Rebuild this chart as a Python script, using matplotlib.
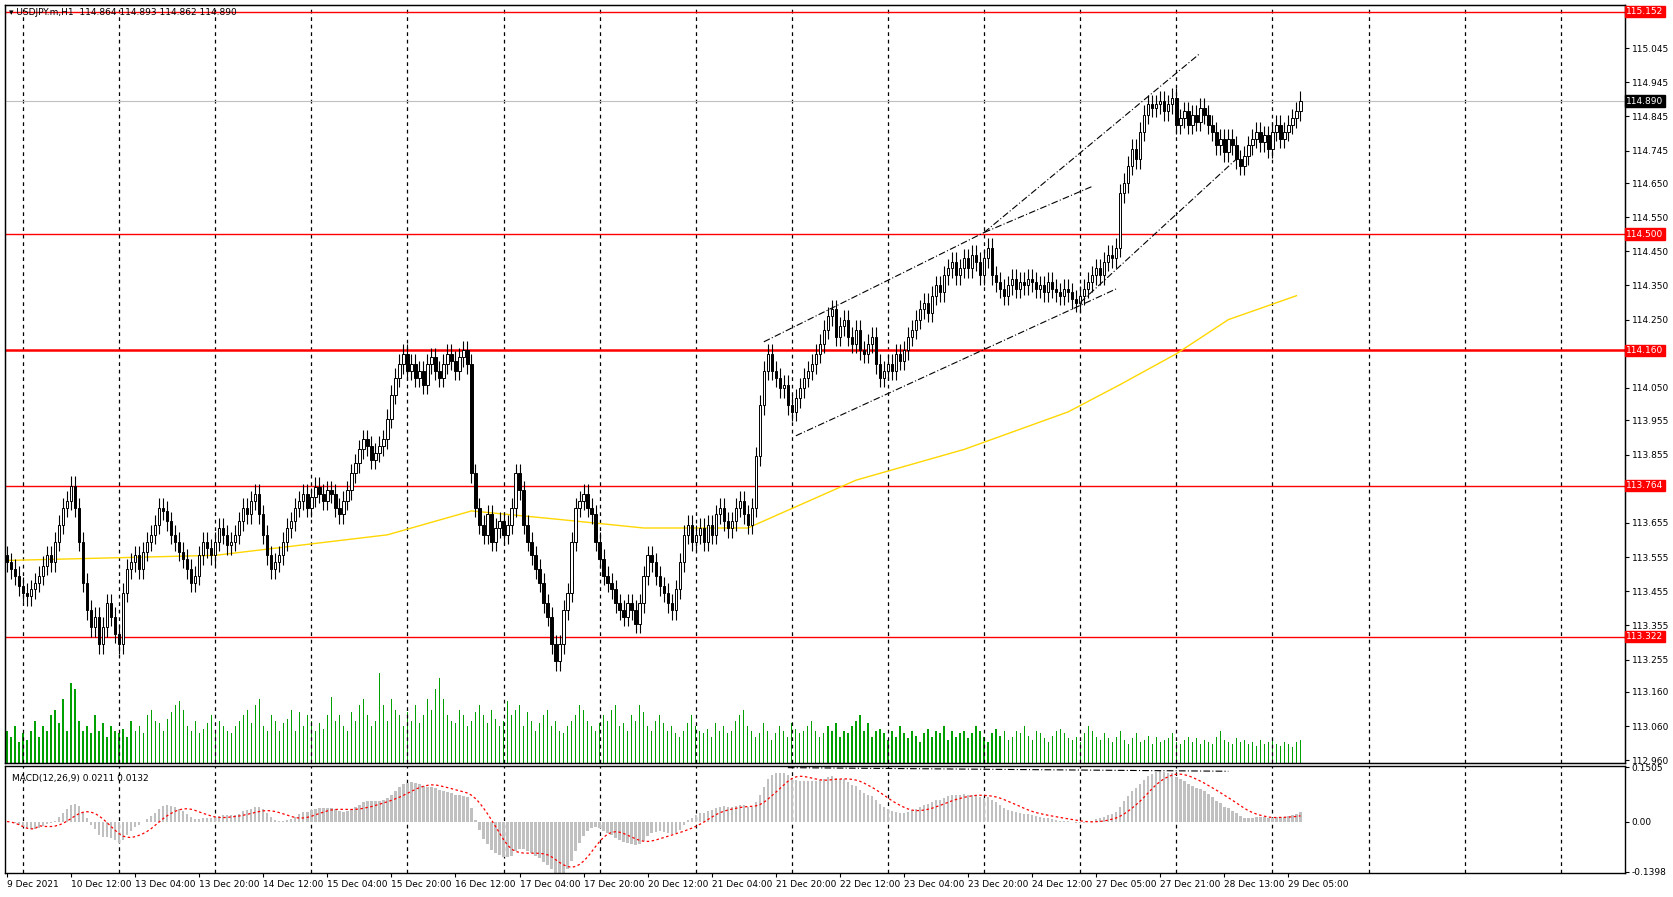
import numpy as np
import matplotlib
matplotlib.use("Agg")
import matplotlib.pyplot as plt

# closes in thousandths above 113.000, one per H1 bar
closes_pips = [
540,520,500,470,450,440,460,480,500,530,560,540,600,650,700,720,
764,700,600,480,400,350,380,300,350,420,380,330,300,
450,520,540,560,520,570,600,620,650,700,690,
660,620,600,570,550,520,480,500,
560,600,580,560,600,640,620,590,600,620,660,700,680,720,740,
680,620,560,520,540,560,
600,640,660,700,720,740,700,730,760,740,720,750,740,700,680,720,
750,800,830,870,900,880,840,860,880,900,
960,1030,1080,1120,1150,1100,
1120,1080,1100,1060,1120,1140,1100,1080,1120,1150,1130,1100,1140,1160,1120,
800,700,650,620,680,600,640,660,620,650,
700,800,750,650,600,
560,520,480,420,380,300,250,300,400,450,
600,700,720,740,700,680,
600,550,500,480,460,420,400,380,420,400,360,
420,500,560,540,500,470,450,420,400,460,540,
620,650,600,620,640,600,650,620,680,700,660,640,660,700,720,680,650,700,
850,1000,1100,1150,
1100,1080,1050,1060,1000,980,1020,
1050,1080,1100,1120,1150,1180,1220,1260,1280,1200,1230,1250,
1200,1180,1220,1160,1150,1180,1200,1120,1080,1100,
1120,1100,1150,1130,1160,1200,1220,1250,
1280,1300,1270,1320,1350,1330,1380,1400,1420,1380,1400,
1430,1400,1440,1420,1380,1430,1460,
1380,1360,1340,1320,1350,1370,1340,1360,1350,1370,1360,1340,1350,1330,1360,1340,1330,1320,1340,1330,1310,1300,1320,
1340,1360,1380,1400,1380,1420,1440,1430,1460,
1620,1650,1700,1750,1720,1800,1850,1880,1870,
1880,1890,1860,1880,1900,1820,
1840,1860,1820,1850,1830,1870,1850,1820,1800,1760,1780,
1740,1780,1760,1720,1700,1730,
1760,1780,1800,1770,1790,1750,1800,1820,1780,1800,1820,
1840,1860,1890]
first_open_pips = 560
wick_pips = 28

volumes = [int(v) for v in """
30 25 35 20 28 22 30 40 25 35 30 45 50 38 60 30 75 70 40 30 35 28 45 30 38 25 35 30 28
32 25 40 30 35 28 45 50 40 38 30 42 48 55 58 50 35 30 40 28 32 38 45 30 40 35 30 28 35 40
45 50 38 55 60 35 30 45 40 30 38 42 50 30 48 35 45 40 30 38 32 45 62 40 45 35 30 48 40 55
60 45 35 40 85 55 40 60 50 45 35 48 40 55 38 45 60 50 70 80 60 45 40 38 50 45 35 40 48 55
45 38 50 42 35 40 58 45 50 55 35 48 40 30 38 45 50 35 40 30 28 35 40 45 55 50 40 35 30 38
45 40 50 55 35 38 30 45 40 55 48 35 30 40 45 38 30 35 28 25 30 38 45 35 30 28 32 25 38 30
35 28 30 40 45 50 35 30 25 28 38 30 22 28 35 30 25 38 32 28 30 35 40 30 25 28 35 30 38 25
30 28 35 40 45 30 38 25 30 32 28 22 30 25 35 28 24 30 26 20 28 32 25 30 28 35 22 30 25 28
30 24 28 35 30 25 20 28 32 26 30 22 25 30 28 35 26 22 30 28 24 20 26 30 32 28 24 22 25 20
28 35 30 25 22 28 24 20 25 30 22 18 24 28 20 22 26 18 25 20 22 24 28 20 18 22 25 20 24 18
22 20 18 25 30 22 20 18 24 20 22 18 20 16 22 18 20 24 18 16 20 18 15 20 22 18 16 20 18 15
22 18 20 16""".split()]

ma_idx = [0, 52, 95, 116, 138, 159, 185, 212, 239, 265, 278, 292, 305, 322]
ma_val = [113.545, 113.56, 113.62, 113.69, 113.665, 113.64, 113.64, 113.78, 113.87, 113.98, 114.06, 114.15, 114.25, 114.32]

h_levels = [115.152, 114.500, 114.160, 113.764, 113.322]
current_price = 114.890

trend_lines = [
    ((189, 114.185), (244, 114.505)),
    ((197, 113.91), (277, 114.34)),
    ((244, 114.505), (271, 114.64)),
    ((244, 114.505), (298, 115.03)),
    ((268, 114.30), (307, 114.72)),
]
macd_line = ((195, 0.150), (305, 0.140))

tick_prices = [115.045, 114.945, 114.845, 114.745, 114.650, 114.550, 114.450, 114.350,
               114.250, 114.050, 113.955, 113.855, 113.655, 113.555, 113.455, 113.355,
               113.255, 113.160, 113.060, 112.960]
date_labels = ["9 Dec 2021", "10 Dec 12:00", "13 Dec 04:00", "13 Dec 20:00", "14 Dec 12:00",
               "15 Dec 04:00", "15 Dec 20:00", "16 Dec 12:00", "17 Dec 04:00", "17 Dec 20:00",
               "20 Dec 12:00", "21 Dec 04:00", "21 Dec 20:00", "22 Dec 12:00", "23 Dec 04:00",
               "23 Dec 20:00", "24 Dec 12:00", "27 Dec 05:00", "27 Dec 21:00", "28 Dec 13:00",
               "29 Dec 05:00"]

closes = 113 + np.array(closes_pips) / 1000.0
n = len(closes)
opens = np.concatenate([[113 + first_open_pips / 1000.0], closes[:-1]])
highs = np.maximum(opens, closes) + wick_pips / 1000.0
lows = np.minimum(opens, closes) - wick_pips / 1000.0
vol = np.array((volumes + [20] * n)[:n], dtype=float)
x = np.arange(n)

def ema(a, p):
    k = 2 / (p + 1); out = np.empty_like(a); out[0] = a[0]
    for i in range(1, len(a)):
        out[i] = a[i] * k + out[i - 1] * (1 - k)
    return out
macd = ema(closes, 12) - ema(closes, 26)
sig = np.convolve(macd, np.ones(9) / 9, mode="full")[:n]
sig[:8] = macd[:8]

plt.rcParams["font.family"] = ["DejaVu Sans"]
fs = 6.5
fig = plt.figure(figsize=(16.73, 8.97), dpi=100)
ax = fig.add_axes([0.0032, 0.149, 0.968, 0.845])
axm = fig.add_axes([0.0032, 0.0262, 0.968, 0.1202])
XL = (-0.4, 404)
ylo, yhi = 112.951, 115.170

grid_idx = np.arange(4, 404, 24)
for a in (ax, axm):
    for g in grid_idx:
        a.axvline(g, color="black", lw=0.9, ls=(0, (3, 3)), zorder=0)
    a.set_xlim(*XL)
    for s in a.spines.values():
        s.set_linewidth(1.0)

axv = ax.twinx()
axv.set_position(ax.get_position())
axv.bar(x, vol, width=0.3, color="#00a000", zorder=1)
axv.set_ylim(0, max(vol) * 710 / 85)
axv.set_yticks([]); axv.set_xlim(*XL)
axv.set_zorder(0); ax.set_zorder(1); ax.patch.set_visible(False)

for lv in h_levels:
    ax.axhline(lv, color="red", lw=1.8 if abs(lv - 114.160) < 1e-6 else 1.0, zorder=2)
ax.axhline(current_price, color="#c0c0c0", lw=0.8, zorder=1)
ax.plot(ma_idx, ma_val, color="#ffd700", lw=1.0, zorder=2)

ax.vlines(x, lows, highs, color="black", lw=0.8, zorder=3)
up = closes >= opens
bh = np.abs(closes - opens); bh = np.maximum(bh, 0.003)
ax.bar(x[up], bh[up], bottom=opens[up], width=0.6, color="white", edgecolor="black", lw=0.7, zorder=4)
ax.bar(x[~up], bh[~up], bottom=closes[~up], width=0.6, color="black", edgecolor="black", lw=0.7, zorder=4)

for (x0, y0), (x1, y1) in trend_lines:
    ax.plot([x0, x1], [y0, y1], color="black", lw=0.8, ls=(0, (6, 2, 1, 2)), zorder=5)

ax.set_ylim(ylo, yhi)
ax.yaxis.tick_right()
ax.set_yticks(tick_prices)
ax.set_yticklabels([f"{t:.3f}" for t in tick_prices], fontsize=fs)
ax.tick_params(axis="y", length=3, pad=2)
ax.set_xticks([])
for lv in h_levels:
    ax.text(1.001, (lv - ylo) / (yhi - ylo), f"{lv:.3f}", transform=ax.transAxes, fontsize=fs,
            color="white", va="center", ha="left", zorder=10,
            bbox=dict(boxstyle="square,pad=0.15", fc="red", ec="red"))
ax.text(1.001, (current_price - ylo) / (yhi - ylo), f"{current_price:.3f}", transform=ax.transAxes,
        fontsize=fs, color="white", va="center", ha="left", zorder=10,
        bbox=dict(boxstyle="square,pad=0.15", fc="black", ec="black"))
ax.text(0.002, 0.99, "▾ USDJPY.m,H1  114.864 114.893 114.862 114.890", transform=ax.transAxes,
        fontsize=fs, va="center", ha="left")

axm.bar(x, macd, width=0.6, color="#c0c0c0", zorder=2)
axm.plot(x, sig, color="red", lw=0.9, ls=(0, (2, 2)), zorder=3)
axm.plot([macd_line[0][0], macd_line[1][0]], [macd_line[0][1], macd_line[1][1]],
         color="black", lw=0.8, ls=(0, (6, 2, 1, 2)))
axm.set_ylim(-0.1398 - 0.005, 0.1505 + 0.005)
axm.yaxis.tick_right()
axm.set_yticks([0.1505, 0.0, -0.1398])
axm.set_yticklabels(["0.1505", "0.00", "-0.1398"], fontsize=fs)
axm.tick_params(axis="y", length=3, pad=2)
axm.set_xticks(np.arange(0, 16 * len(date_labels), 16))
axm.set_xticklabels(date_labels, fontsize=fs, ha="left")
axm.tick_params(axis="x", length=3, pad=2)
axm.text(0.004, 0.92, "MACD(12,26,9) 0.0211 0.0132", transform=axm.transAxes,
         fontsize=fs, va="top", ha="left")

fig.savefig("out.png", dpi=100)
